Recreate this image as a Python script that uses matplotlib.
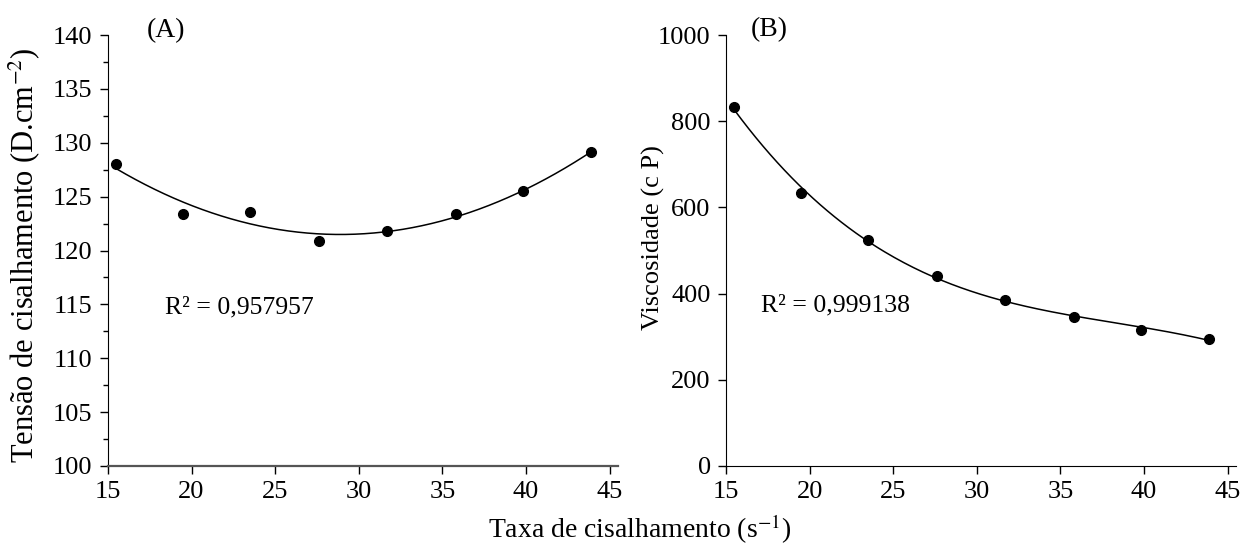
# viscosity / shear stress vs shear rate, two panels
import numpy as np
import matplotlib
matplotlib.use("Agg")
import matplotlib.pyplot as plt
from matplotlib.ticker import MultipleLocator

plt.rcParams['font.family'] = ['Liberation Serif', 'DejaVu Serif']
plt.rcParams['mathtext.fontset'] = 'stix'

# shear rate (s-1)
taxa = [15.5, 19.5, 23.5, 27.6, 31.7, 35.8, 39.8, 43.9]
# shear stress (D.cm-2)
tensao = [128.0, 123.4, 123.6, 120.9, 121.8, 123.4, 125.5, 129.1]
# viscosity (cP)
viscosidade = [832, 634, 525, 440, 386, 346, 316, 295]

r2_a = "R² = 0,957957"
r2_b = "R² = 0,999138"

fs = 19

fig = plt.figure(figsize=(12.45, 5.49), dpi=100)
ax1 = fig.add_axes([0.0867, 0.1512, 0.4097, 0.785])
ax2 = fig.add_axes([0.5831, 0.1512, 0.4097, 0.785])

x = np.array(taxa)
xs = np.linspace(x.min(), x.max(), 200)

for ax, y, deg in [(ax1, tensao, 2), (ax2, viscosidade, 3)]:
    coef = np.polyfit(x, y, deg)
    ax.plot(xs, np.polyval(coef, xs), color='black', lw=1.1)
    ax.plot(x, y, 'o', color='black', ms=7)
    ax.spines['top'].set_visible(False)
    ax.spines['right'].set_visible(False)
    ax.set_xlim(15, 45.5)
    ax.set_xticks([15, 20, 25, 30, 35, 40, 45])
    ax.tick_params(labelsize=fs, length=6, width=1, direction='out', pad=5)
    ax.tick_params(which='minor', length=3.5, width=1)

ax1.set_ylim(100, 140)
ax1.yaxis.set_major_locator(MultipleLocator(5))
ax1.yaxis.set_minor_locator(MultipleLocator(2.5))
ax1.spines['bottom'].set_color('#555555')
ax1.spines['bottom'].set_linewidth(1.6)
ax1.set_ylabel("Tensão de cisalhamento (D.cm$^{-2}$)", fontsize=fs + 3)
ax1.yaxis.set_label_coords(-0.129, 0.49)
ax1.text(18.4, 114.7, r2_a, fontsize=fs - 0.5, va='center', ha='left')
ax1.text(18.5, 140.4, "(A)", fontsize=fs + 1, ha='center', va='center', clip_on=False)

ax2.set_ylim(0, 1000)
ax2.yaxis.set_major_locator(MultipleLocator(200))
ax2.set_ylabel("Viscosidade (c P)", fontsize=fs)
ax2.yaxis.set_label_coords(-0.12, 0.529)
ax2.text(17.1, 372, r2_b, fontsize=fs - 0.5, va='center', ha='left')
ax2.text(17.6, 1012, "(B)", fontsize=fs + 1, ha='center', va='center', clip_on=False)

fig.text(0.514, 0.035, "Taxa de cisalhamento (s$^{-1}$)", fontsize=fs + 1, ha='center', va='center')

plt.savefig("out.png", dpi=100)
